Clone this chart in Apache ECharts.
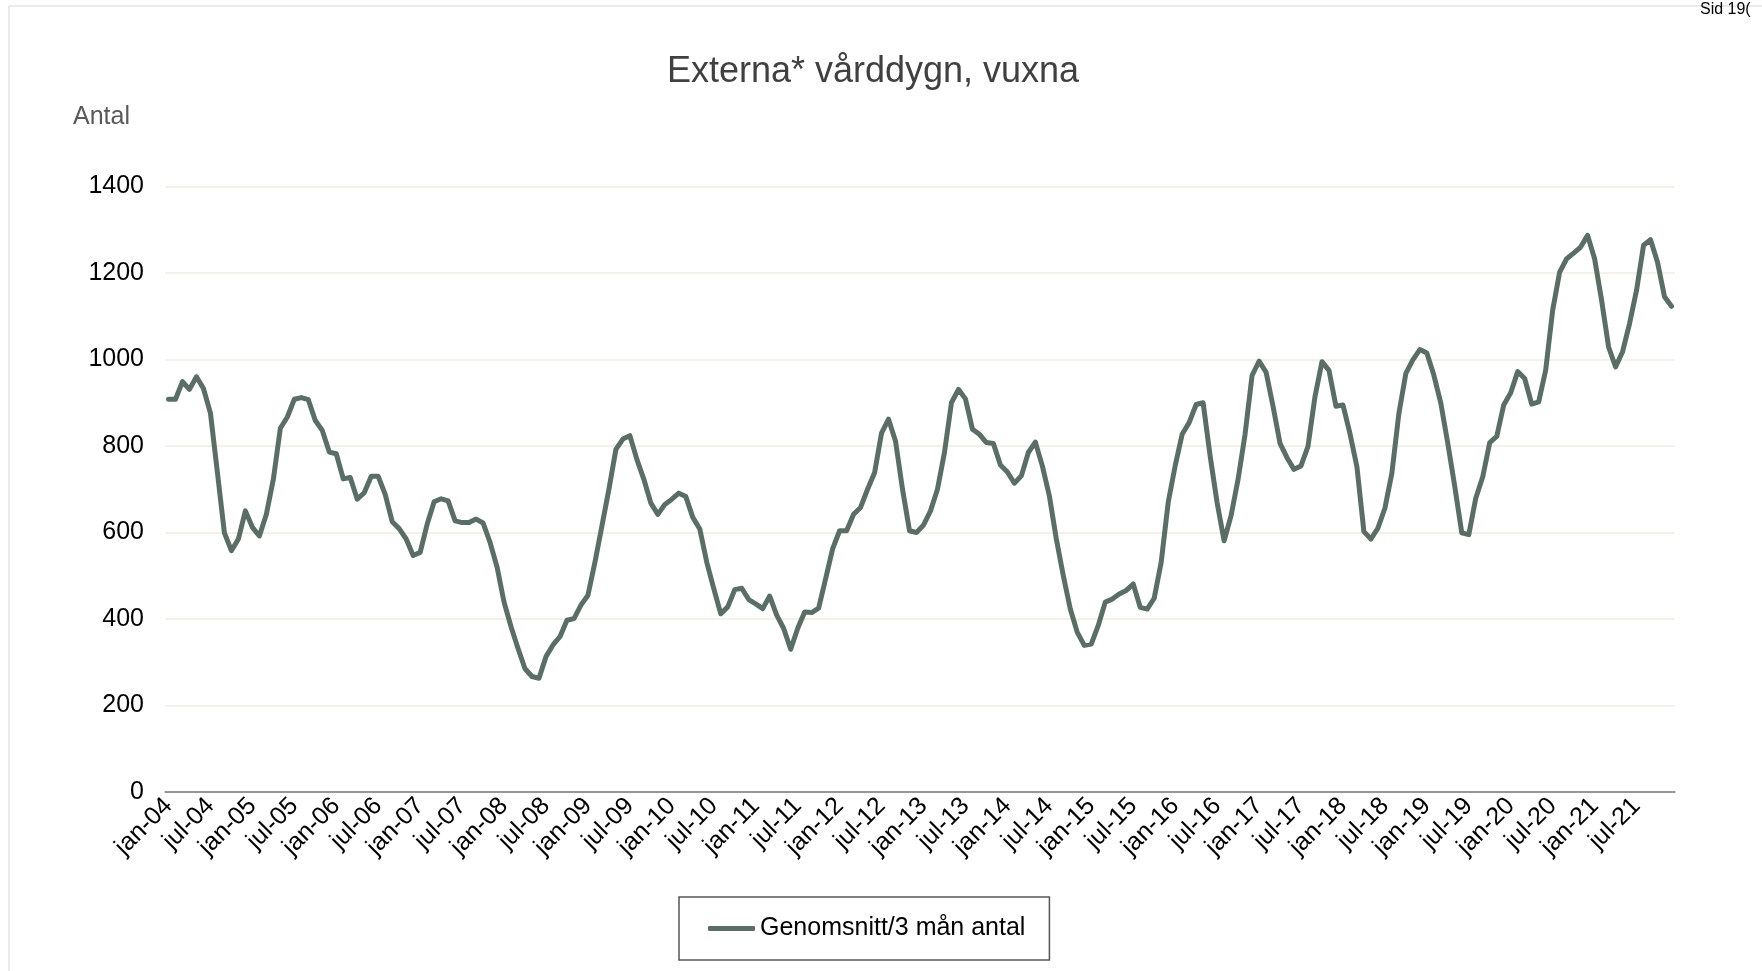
<!DOCTYPE html>
<html>
<head>
<meta charset="utf-8">
<script src="https://cdn.jsdelivr.net/npm/echarts@6/dist/echarts.min.js"></script>
<style>
  html, body { margin: 0; padding: 0; background: #fff; }
  #chart { width: 1762px; height: 971px; }
</style>
</head>
<body>
<div id="chart"></div>
<script>
// månader och år för kategoriaxeln
const monthNames = ['jan', 'feb', 'mar', 'apr', 'maj', 'jun', 'jul', 'aug', 'sep', 'okt', 'nov', 'dec'];
const years = ['04', '05', '06', '07', '08', '09', '10', '11', '12', '13', '14', '15', '16', '17', '18', '19', '20', '21'];

// Genomsnitt/3 mån antal, jan-04 .. dec-21
const avg3 = [
  908, 908, 949, 931, 960, 933, 876, 738, 599, 558, 585, 650,
  612, 592, 642, 723, 841, 867, 908, 912, 907, 859, 836, 786,
  782, 724, 727, 677, 692, 730, 730, 688, 625, 609, 585, 547,
  554, 619, 671, 678, 673, 627, 623, 623, 631, 622, 577, 520,
  439, 382, 332, 285, 267, 263, 313, 340, 359, 397, 401, 432,
  455, 531, 615, 700, 792, 816, 824, 769, 723, 668, 642, 665,
  677, 691, 683, 635, 608, 531, 470, 412, 428, 468, 471, 445,
  435, 424, 453, 409, 378, 330, 378, 416, 415, 425, 493, 562,
  604, 604, 642, 658, 700, 738, 830, 862, 811, 700, 604, 600,
  617, 650, 700, 785, 900, 931, 909, 839, 827, 808, 806, 756,
  740, 714, 731, 785, 809, 754, 685, 585, 500, 423, 369, 339,
  342, 385, 439, 446, 458, 466, 481, 427, 423, 448, 531, 669,
  754, 827, 854, 896, 900, 777, 669, 581, 639, 723, 827, 963,
  996, 971, 892, 806, 773, 746, 754, 799, 914, 995, 975, 892,
  895, 829, 752, 602, 585, 610, 656, 737, 875, 968, 999, 1023,
  1015, 964, 899, 806, 706, 599, 595, 679, 729, 808, 822, 895,
  923, 972, 956, 897, 902, 975, 1114, 1202, 1233, 1246, 1260, 1287,
  1233, 1137, 1029, 983, 1018, 1083, 1160, 1264, 1277, 1225, 1145, 1123
];

const yTicks = [0, 200, 400, 600, 800, 1000, 1200, 1400];

const categories = [];
years.forEach(function (y) {
  monthNames.forEach(function (m) { categories.push(m + '-' + y); });
});

const font = "'Liberation Sans', Arial, sans-serif";
const lineColor = '#5b6e65';
const chart = echarts.init(document.getElementById('chart'));

const option = {
  backgroundColor: '#fff',
  animation: false,
  title: {
    text: 'Externa* vårddygn, vuxna',
    left: 868,
    top: 49,
    textAlign: 'center',
    textStyle: { fontFamily: font, fontSize: 36, fontWeight: 'normal', color: '#404040' }
  },
  graphic: [
    {
      type: 'rect',
      shape: { x: 9, y: 6, width: 1800, height: 1000 },
      style: { fill: 'none', stroke: '#e4e4e4', lineWidth: 1.5 },
      silent: true
    },
    {
      type: 'text',
      left: 1700,
      top: 2,
      style: { text: 'Sid 19(', font: '16px ' + font, fill: '#000' }
    },
    {
      type: 'text',
      left: 73,
      top: 105,
      style: { text: 'Antal', font: '25px ' + font, fill: '#595959' }
    }
  ],
  legend: {
    left: 679,
    top: 897,
    padding: [19, 24, 19, 29],
    borderColor: '#555',
    borderWidth: 1.5,
    borderRadius: 0,
    icon: 'roundRect',
    itemWidth: 47,
    itemHeight: 5,
    itemStyle: { color: lineColor },
    textStyle: { fontFamily: font, fontSize: 25, color: '#000' },
    data: ['Genomsnitt/3 mån antal']
  },
  grid: { left: 165, right: 87, top: 186.5, bottom: 179 },
  xAxis: {
    type: 'category',
    data: categories,
    boundaryGap: true,
    axisLine: { lineStyle: { color: '#7a7a7a', width: 1.5 } },
    axisTick: { interval: 5, length: 8, lineStyle: { color: '#7a7a7a', width: 1.5 } },
    axisLabel: {
      interval: 5,
      rotate: 45,
      margin: 10,
      fontFamily: font,
      fontSize: 25,
      color: '#000'
    },
    splitLine: { show: false }
  },
  yAxis: {
    type: 'value',
    min: yTicks[0],
    max: yTicks[yTicks.length - 1],
    interval: 200,
    axisLine: { show: false },
    axisTick: { show: false },
    axisLabel: {
      margin: 21,
      fontFamily: font,
      fontSize: 25,
      color: '#000',
      formatter: function (v) { return String(v); }
    },
    splitLine: { lineStyle: { color: '#eeece4', width: 1.5 } }
  },
  series: [{
    name: 'Genomsnitt/3 mån antal',
    type: 'line',
    data: avg3,
    symbol: 'none',
    lineStyle: { color: lineColor, width: 5, join: 'round', cap: 'round' },
    itemStyle: { color: lineColor }
  }]
};

chart.setOption(option);
window.addEventListener('resize', () => { chart.resize(); });
</script>
</body>
</html>
